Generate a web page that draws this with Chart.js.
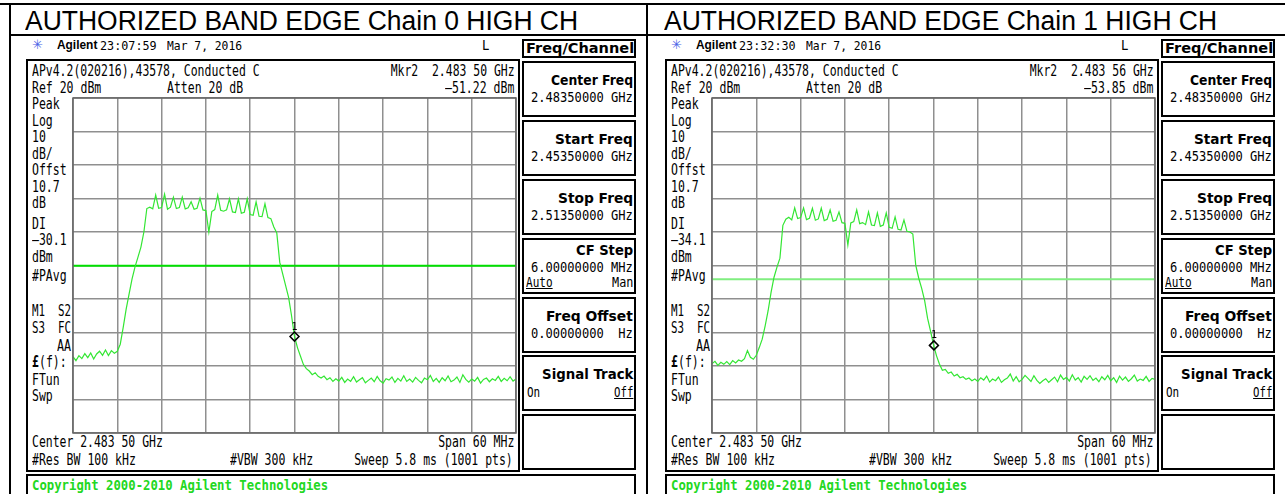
<!DOCTYPE html>
<html>
<head>
<meta charset="utf-8">
<script src="https://cdn.jsdelivr.net/npm/chart.js@4.4.1/dist/chart.umd.min.js"></script>
<style>
body{margin:0;background:#fff;width:1285px;height:494px;overflow:hidden;position:relative}
.b{position:absolute;box-sizing:border-box;border:2px solid #000}
.r{position:absolute;background:#000}
.t{position:absolute;white-space:pre}
canvas{position:absolute}
</style>
</head>
<body>
<script>
// sweep points, MHz (start 2453.5, stop 2513.5)
const freqMHz = [
  2453.5, 2453.9, 2454.3, 2454.7, 2455.1,
  2455.5, 2455.9, 2456.3, 2456.7, 2457.1,
  2457.5, 2457.9, 2458.3, 2458.7, 2459.1,
  2459.5, 2459.9, 2460.3, 2460.7, 2461.1,
  2461.5, 2461.9, 2462.3, 2462.7, 2463.1,
  2463.5, 2463.9, 2464.3, 2464.7, 2465.1,
  2465.5, 2465.9, 2466.3, 2466.7, 2467.1,
  2467.5, 2467.9, 2468.3, 2468.7, 2469.1,
  2469.5, 2469.9, 2470.3, 2470.7, 2471.1,
  2471.5, 2471.9, 2472.3, 2472.7, 2473.1,
  2473.5, 2473.9, 2474.3, 2474.7, 2475.1,
  2475.5, 2475.9, 2476.3, 2476.7, 2477.1,
  2477.5, 2477.9, 2478.3, 2478.7, 2479.1,
  2479.5, 2479.9, 2480.3, 2480.7, 2481.1,
  2481.5, 2481.9, 2482.3, 2482.7, 2483.1,
  2483.5, 2483.9, 2484.3, 2484.7, 2485.1,
  2485.5, 2485.9, 2486.3, 2486.7, 2487.1,
  2487.5, 2487.9, 2488.3, 2488.7, 2489.1,
  2489.5, 2489.9, 2490.3, 2490.7, 2491.1,
  2491.5, 2491.9, 2492.3, 2492.7, 2493.1,
  2493.5, 2493.9, 2494.3, 2494.7, 2495.1,
  2495.5, 2495.9, 2496.3, 2496.7, 2497.1,
  2497.5, 2497.9, 2498.3, 2498.7, 2499.1,
  2499.5, 2499.9, 2500.3, 2500.7, 2501.1,
  2501.5, 2501.9, 2502.3, 2502.7, 2503.1,
  2503.5, 2503.9, 2504.3, 2504.7, 2505.1,
  2505.5, 2505.9, 2506.3, 2506.7, 2507.1,
  2507.5, 2507.9, 2508.3, 2508.7, 2509.1,
  2509.5, 2509.9, 2510.3, 2510.7, 2511.1,
  2511.5, 2511.9, 2512.3, 2512.7, 2513.1,
  2513.5
];

// Chain 0 trace, dBm
const chain0Level = [
  -57.2, -58.4, -56.9, -57.8, -56.3,
  -57.5, -56.1, -57.9, -56.4, -55.6,
  -56.8, -55.2, -56.9, -55.4, -56.2,
  -55.6, -53.5, -48.5, -43.0, -38.5,
  -34.0, -30.4, -27.5, -24.5, -20.0,
  -13.0, -12.6, -13.1, -9.0, -12.9,
  -12.7, -8.7, -13.2, -12.6, -9.6,
  -13.0, -12.7, -9.6, -13.1, -12.8,
  -11.0, -13.2, -12.9, -9.9, -13.4,
  -13.6, -20.0, -13.9, -13.3, -9.0,
  -13.5, -13.8, -13.4, -10.1, -14.0,
  -14.2, -10.1, -14.4, -14.1, -10.1,
  -14.8, -15.0, -11.0, -15.3, -15.4,
  -11.6, -15.7, -16.0, -18.5, -20.3,
  -29.0, -32.5, -36.0, -39.5, -45.0,
  -51.2, -54.5, -57.0, -59.5, -60.8,
  -61.5, -62.6, -62.0, -63.1, -63.6,
  -63.0, -64.1, -63.5, -64.6, -63.8,
  -64.5, -63.4, -64.9, -63.9, -64.6,
  -63.2, -64.8, -64.1, -63.5, -65.0,
  -64.3, -63.6, -64.7, -63.1, -64.4,
  -65.1, -63.8, -64.2, -63.3, -64.9,
  -63.7, -64.5, -62.9, -64.6, -63.9,
  -64.8, -63.4, -64.3, -65.0, -63.6,
  -64.1, -62.8, -64.6, -63.7, -64.9,
  -63.5, -64.4, -63.0, -64.7, -64.2,
  -63.3, -64.9, -62.6, -64.0, -64.8,
  -63.9, -64.5, -63.4, -65.1, -64.0,
  -63.6, -64.7, -63.8, -64.3, -63.1,
  -64.6, -63.7, -64.4, -63.2, -64.5,
  -63.9
];

// Chain 1 trace, dBm
const chain1Level = [
  -59.3, -58.6, -59.8, -58.9, -59.5,
  -58.7, -59.6, -58.4, -59.1, -58.2,
  -58.6, -57.8, -55.4, -57.4, -58.0,
  -56.8, -54.5, -52.0, -48.0, -43.5,
  -38.0, -33.5, -30.5, -27.8, -18.0,
  -16.2, -15.6, -16.4, -12.8, -16.0,
  -15.7, -12.8, -16.3, -15.9, -12.9,
  -16.5, -16.1, -12.9, -16.6, -16.2,
  -13.4, -16.8, -16.5, -14.0, -17.2,
  -17.4, -23.9, -17.3, -16.9, -13.4,
  -17.5, -17.2, -17.8, -14.0, -17.9,
  -18.1, -14.3, -18.3, -17.9, -14.3,
  -18.6, -18.9, -15.5, -19.2, -19.4,
  -16.4, -19.8, -20.0, -20.6, -30.0,
  -33.8, -36.8, -40.5, -45.8, -49.6,
  -53.6, -56.9, -59.4, -61.3, -61.0,
  -62.2, -61.8, -63.0, -62.5, -63.5,
  -63.2, -64.0, -63.6, -64.4, -63.9,
  -64.6, -63.5, -64.2, -63.0, -64.8,
  -63.9, -64.4, -63.3, -64.9, -64.1,
  -63.6, -62.4, -64.5, -63.2, -64.7,
  -64.0, -62.8, -63.7, -64.6, -62.9,
  -64.3, -65.2, -64.4, -63.8, -64.9,
  -64.1, -63.3, -64.7, -62.7, -64.0,
  -63.4, -64.5, -62.6, -64.2, -63.5,
  -64.8, -63.1, -64.0, -62.9, -64.3,
  -63.6, -64.7, -63.2, -64.1, -62.8,
  -64.4, -63.5, -64.9, -63.0, -64.2,
  -63.3, -64.6, -63.8, -62.7, -64.5,
  -63.9, -64.3, -63.1, -64.6, -63.7,
  -64.0
];

// graticule: 6 MHz/div, 10 dB/div from Ref 20 dBm
const gridFreqs = [2453.5, 2459.5, 2465.5, 2471.5, 2477.5, 2483.5, 2489.5, 2495.5, 2501.5, 2507.5, 2513.5];
const gridLevels = [20, 10, 0, -10, -20, -30, -40, -50, -60, -70, -80];

const displayLine0 = -30.1;
const displayLine1 = -34.1;
const marker0 = [2483.5, -51.22];
const marker1 = [2483.56, -53.85];

function rect(x, y, w, h) {
  const d = document.createElement('div');
  d.className = 'r';
  Object.assign(d.style, {left: x + 'px', top: y + 'px', width: w + 'px', height: h + 'px'});
  document.body.appendChild(d);
}
function box(x, y, w, h) {
  const d = document.createElement('div');
  d.className = 'b';
  Object.assign(d.style, {left: x + 'px', top: y + 'px', width: w + 'px', height: h + 'px'});
  document.body.appendChild(d);
}
// text placed on a baseline, squeezed to the width seen on the screen
function txt(x, base, str, o) {
  o = o || {};
  const s = document.createElement('span');
  s.className = 't';
  s.textContent = str;
  const size = o.size || 15;
  s.style.font = (o.bold ? 'bold ' : '') + size + 'px ' + (o.face || '"DejaVu Sans Mono"');
  s.style.lineHeight = size + 'px';
  s.style.top = (base - 0.846 * size) + 'px';
  s.style.color = o.color || '#000';
  if (o.under) s.style.textDecoration = 'underline';
  document.body.appendChild(s);
  const w = s.offsetWidth;
  const target = o.w || (o.pitch || 6.9) * str.length;
  if (o.right) { s.style.left = (x - w) + 'px'; s.style.transformOrigin = 'right center'; }
  else { s.style.left = x + 'px'; s.style.transformOrigin = 'left center'; }
  s.style.transform = 'scaleX(' + (target / w) + ')';
}

// table lines of the document
rect(0, 3, 1285, 2);
rect(9, 3, 2, 491);
rect(9, 34, 1276, 2);
rect(646, 3, 2, 491);

const markerLabel = {
  id: 'markerLabel',
  afterDatasetsDraw(chart) {
    const ctx = chart.ctx, a = chart.chartArea;
    ctx.save();
    ctx.strokeStyle = '#666';
    ctx.lineWidth = 1.5;
    ctx.strokeRect(a.left, a.top, a.right - a.left, a.bottom - a.top);
    const pt = chart.getDatasetMeta(2).data[0];
    ctx.fillStyle = '#000';
    ctx.font = '10px "DejaVu Sans Mono"';
    ctx.textAlign = 'center';
    ctx.fillText('1', pt.x, pt.y - 7);
    ctx.restore();
  }
};

function spectrum(dx, levels, dl, dlColor, mk) {
  const c = document.createElement('canvas');
  c.width = 445; c.height = 337;
  c.style.left = (72 + dx) + 'px';
  c.style.top = '97px';
  document.body.appendChild(c);
  new Chart(c, {
    type: 'line',
    data: {
      datasets: [
        {data: freqMHz.map((f, i) => ({x: f, y: levels[i]})), borderColor: '#33e633', borderWidth: 1.2, pointRadius: 0, tension: 0, order: 1},
        {data: [{x: gridFreqs[0], y: dl}, {x: gridFreqs[gridFreqs.length - 1], y: dl}], borderColor: dlColor, borderWidth: 2, pointRadius: 0, order: 2},
        {data: [{x: mk[0], y: mk[1]}], showLine: false, pointStyle: 'rectRot', pointRadius: 4.5, borderColor: '#000', borderWidth: 1.5, backgroundColor: 'rgba(0,0,0,0)', order: 0}
      ]
    },
    options: {
      responsive: false, animation: false, devicePixelRatio: 1,
      layout: {padding: 1, autoPadding: false},
      plugins: {legend: {display: false}, tooltip: {enabled: false}},
      scales: {
        x: {
          type: 'linear', min: gridFreqs[0], max: gridFreqs[gridFreqs.length - 1],
          afterBuildTicks: s => { s.ticks = gridFreqs.map(v => ({value: v})); },
          afterFit: s => { s.height = 0; },
          ticks: {display: false},
          grid: {color: '#8f8f8f', lineWidth: 1.5, drawTicks: false},
          border: {display: false}
        },
        y: {
          min: -80, max: 20,
          afterBuildTicks: s => { s.ticks = gridLevels.map(v => ({value: v})); },
          afterFit: s => { s.width = 0; },
          ticks: {display: false},
          grid: {color: '#8f8f8f', lineWidth: 1.5, drawTicks: false},
          border: {display: false}
        }
      }
    },
    plugins: [markerLabel]
  });
}

function panel(dx, chain, time, mkrF, mkrL, dlText, levels, dl, dlColor, mk) {
  txt(25 + dx, 31, 'AUTHORIZED BAND EDGE Chain ' + chain + ' HIGH CH', {face: '"Liberation Sans"', size: 27, w: 553});

  // header
  txt(32 + dx, 49, '\u2733', {face: '"DejaVu Sans"', size: 13, w: 11, color: '#4a62e6'});
  txt(57 + dx, 50, 'Agilent', {face: '"Liberation Sans"', bold: true, size: 12.5, w: 40});
  txt(100 + dx, 50, time, {size: 13, w: 57});
  txt(167 + dx, 50, 'Mar 7, 2016', {size: 13, w: 75});
  txt(482 + dx, 50, 'L', {size: 14, w: 7});

  box(522 + dx, 39, 114, 19);
  txt(634 + dx, 53, 'Freq/Channel', {face: '"DejaVu Sans"', bold: true, size: 14, w: 108, right: true});

  // screen
  box(26 + dx, 59, 494, 413);
  txt(32 + dx, 77, 'APv4.2(020216),43578, Conducted C');
  txt(515 + dx, 77, 'Mkr2  ' + mkrF, {right: true});
  txt(32 + dx, 94, 'Ref 20 dBm');
  txt(167 + dx, 94, 'Atten 20 dB');
  txt(514 + dx, 94, mkrL, {right: true});

  const side = [
    ['Peak', 110], ['Log', 127], ['10', 143], ['dB/', 160], ['Offst', 176], ['10.7', 193], ['dB', 209],
    ['DI', 230], [dlText, 246], ['dBm', 263], ['#PAvg', 282],
    ['FTun', 386], ['Swp', 402]
  ];
  side.forEach(s => txt(32 + dx, s[1], s[0]));
  txt(32 + dx, 317, 'M1  S2', {w: 39});
  txt(32 + dx, 334, 'S3  FC', {w: 39});
  txt(71 + dx, 352, 'AA', {w: 14, right: true});
  txt(32 + dx, 368, '\u00a3', {bold: true});
  txt(39 + dx, 368, '(f):');

  txt(32 + dx, 448, 'Center 2.483 50 GHz');
  txt(514 + dx, 448, 'Span 60 MHz', {right: true});
  txt(32 + dx, 466, '#Res BW 100 kHz');
  txt(230 + dx, 466, '#VBW 300 kHz');
  txt(513 + dx, 466, 'Sweep 5.8 ms (1001 pts)', {right: true});

  spectrum(dx, levels, dl, dlColor, mk);

  // softkeys
  const keys = [
    [61, 'Center Freq', 82, '2.48350000 GHz'],
    [120, 'Start Freq', 78, '2.45350000 GHz'],
    [179, 'Stop Freq', 75, '2.51350000 GHz'],
    [238, 'CF Step', 57, null],
    [297, 'Freq Offset', 87, '0.00000000  Hz'],
    [355, 'Signal Track', 91, null],
    [414, null, 0, null]
  ];
  keys.forEach(k => {
    box(522 + dx, k[0], 114, 56);
    const lab = {face: '"DejaVu Sans"', bold: true, size: 14.5, right: true, w: k[2]};
    if (k[1] === 'CF Step') {
      txt(633 + dx, k[0] + 17, k[1], lab);
      txt(633 + dx, k[0] + 34, '6.00000000 MHz', {size: 13.5, w: 102, right: true});
      txt(526 + dx, k[0] + 49, 'Auto', {size: 13.5, w: 27, under: true});
      txt(633 + dx, k[0] + 49, 'Man', {size: 13.5, w: 21, right: true});
    } else if (k[1] === 'Signal Track') {
      txt(633 + dx, k[0] + 24, k[1], lab);
      txt(527 + dx, k[0] + 42, 'On', {size: 13.5, w: 13});
      txt(633 + dx, k[0] + 42, 'Off', {size: 13.5, w: 19, under: true, right: true});
    } else if (k[1]) {
      txt(633 + dx, k[0] + 24, k[1], lab);
      txt(633 + dx, k[0] + 41, k[3], {size: 13.5, w: 102, right: true});
    }
  });

  box(26 + dx, 474, 610, 30);
  txt(32 + dx, 490, 'Copyright 2000-2010 Agilent Technologies', {bold: true, size: 14, w: 296, color: '#22d822'});
}

panel(0, '0', '23:07:59', '2.483 50 GHz', '\u201351.22 dBm', '\u201330.1', chain0Level, displayLine0, '#00e000', marker0);
panel(639, '1', '23:32:30', '2.483 56 GHz', '\u201353.85 dBm', '\u201334.1', chain1Level, displayLine1, '#80ee80', marker1);
</script>
</body>
</html>
